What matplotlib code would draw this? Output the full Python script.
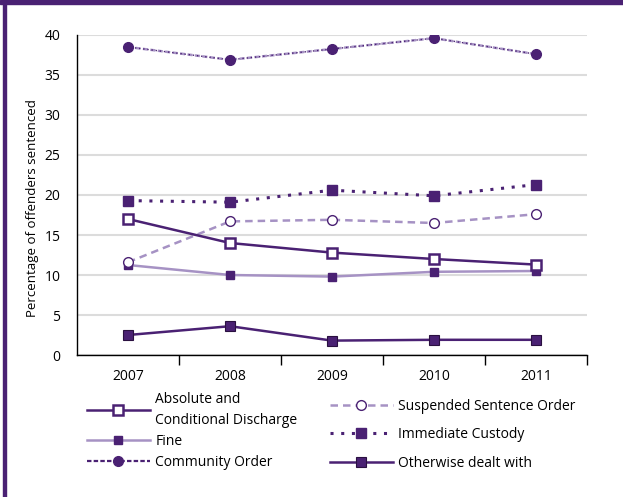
import matplotlib.pyplot as plt
from matplotlib.lines import Line2D
from matplotlib.patches import Rectangle
from matplotlib.ticker import FixedLocator

plt.rcParams['font.family'] = ['Open Sans', 'DejaVu Sans']

years = ['2007', '2008', '2009', '2010', '2011']
absolute_discharge = [17.0, 14.0, 12.8, 12.0, 11.3]
fine = [11.25, 10.0, 9.8, 10.4, 10.5]
community_order = [38.5, 36.9, 38.25, 39.6, 37.6]
suspended_sentence = [11.6, 16.7, 16.9, 16.5, 17.6]
immediate_custody = [19.3, 19.1, 20.6, 19.9, 21.3]
otherwise_dealt = [2.5, 3.6, 1.8, 1.9, 1.9]

dark = '#4a2173'
light = '#a692c4'

fig = plt.figure(figsize=(6.23, 4.97), dpi=100)
ax = fig.add_axes([0.1236, 0.2857, 0.8186, 0.6439])
x = range(len(years))

ax.plot(x, absolute_discharge, color=dark, lw=1.8, marker='s', ms=7,
        mfc='white', mec=dark, mew=1.8, label='Absolute and\nConditional Discharge', zorder=4)
ax.plot(x, fine, color=light, lw=1.8, marker='s', ms=6,
        mfc=dark, mec=dark, label='Fine', zorder=3)
ax.plot(x, community_order, color=light, lw=1.8, ls=(0, (2, 1)), marker='o', ms=7,
        mfc=dark, mec=dark, label='Community Order', zorder=3)
ax.plot(x, community_order, color=dark, lw=1.0, ls=(1, (1, 2)), zorder=3)
ax.plot(x, suspended_sentence, color=light, lw=1.8, ls=(0, (3, 2)), marker='o', ms=7,
        mfc='white', mec=dark, mew=1.0, label='Suspended Sentence Order', zorder=3)
ax.plot(x, immediate_custody, color=dark, lw=2.2, ls=(0, (1, 2.5)), marker='s', ms=7,
        mfc=dark, mec=dark, label='Immediate Custody', zorder=3)
ax.plot(x, otherwise_dealt, color=dark, lw=1.8, marker='s', ms=7,
        mfc=dark, mec='#2a1040', mew=0.8, label='Otherwise dealt with', zorder=3)

ax.set_xlim(-0.5, 4.5)
ax.set_ylim(0, 40)
ax.set_yticks(range(0, 41, 5))
ax.set_xticks(list(x))
ax.set_xticklabels(years)
ax.xaxis.set_minor_locator(FixedLocator([0.5, 1.5, 2.5, 3.5, 4.5]))
ax.tick_params(axis='x', which='major', length=0, pad=10, labelsize=10)
ax.tick_params(axis='x', which='minor', length=7, width=1, direction='out')
ax.tick_params(axis='y', length=0, pad=12, labelsize=10)
ax.yaxis.grid(True, color='#dcdcdc', lw=1.5)
ax.set_axisbelow(True)
for side in ['top', 'right']:
    ax.spines[side].set_visible(False)
ax.spines['left'].set_linewidth(1)
ax.spines['bottom'].set_linewidth(1)
ax.set_ylabel('Percentage of offenders sentenced', fontsize=9.5, labelpad=0)
ax.yaxis.set_label_coords(-0.075, 0.46)

handles, labels = ax.get_legend_handles_labels()
# community order legend handle combines the two dash layers
handles[2] = Line2D([], [], color=dark, lw=1.6, ls=(0, (2, 1)), marker='o', ms=7,
                    mfc=dark, mec=dark)

leg_opts = dict(loc='upper left', frameon=False, fontsize=10, handlelength=4.5,
                handletextpad=0.4, borderaxespad=0, borderpad=0)
left_leg = fig.legend(handles[:3], labels[:3], bbox_to_anchor=(0.14, 0.212),
                      labelspacing=0.45, **leg_opts)
left_leg.get_texts()[0].set_linespacing(1.55)
right_leg = fig.legend(handles[3:], labels[3:], bbox_to_anchor=(0.53, 0.198),
                       labelspacing=0.97, **leg_opts)

# purple frame strips along top and left edges
fig.patches.append(Rectangle((0, 1 - 4 / 497), 1, 4 / 497, transform=fig.transFigure,
                             color='#4a2173', zorder=10))
fig.patches.append(Rectangle((3 / 623, 0), 3 / 623, 1, transform=fig.transFigure,
                             color='#4a2173', zorder=10))

fig.savefig('out.png', dpi=100)
